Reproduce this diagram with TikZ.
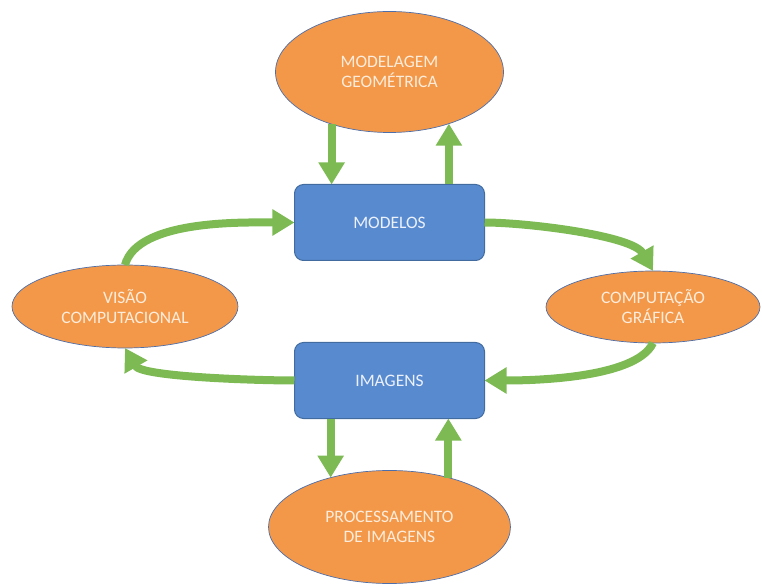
\documentclass[tikz,border=0pt]{standalone}
\usepackage{fontspec}
\setmainfont{Carlito}
\usepackage{tikz}
\usetikzlibrary{positioning,shapes.geometric,arrows.meta,calc}

\definecolor{ovalfill}{RGB}{243,152,72}
\definecolor{ovalline}{RGB}{78,110,170}
\definecolor{ovaltext}{RGB}{253,236,220}
\definecolor{boxfill}{RGB}{88,138,208}
\definecolor{boxline}{RGB}{66,108,160}
\definecolor{boxtext}{RGB}{236,241,250}
\definecolor{flowgreen}{RGB}{125,186,84}

\begin{document}
\begin{tikzpicture}[%
		flow/.style={%
			draw=flowgreen,
			line width=8pt,
			-{Triangle[width=25pt,length=22pt]}
		},
		box/.style={%
			rectangle,
			rounded corners=9pt,
			draw=boxline,
			line width=1pt,
			fill=boxfill,
			text=boxtext,
			minimum width=190pt,
			minimum height=76pt,
			outer sep=0pt,
			font=\fontsize{17.5}{20}\selectfont
		},
		oval/.style={%
			ellipse,
			draw=ovalline,
			line width=0.7pt,
			fill=ovalfill,
			text=ovaltext,
			inner sep=0pt,
			outer sep=0pt,
			align=center,
			font=\fontsize{17.5}{20}\selectfont
		}
		]
		\useasboundingbox (-389.5pt,-362.5pt) rectangle (372.5pt,222.5pt);
		
		\node[box] (modelos)                                           {MODELOS};
		\node[box] (imagens) [below=82pt of modelos]                   {IMAGENS};
		\coordinate (mid) at ($(modelos)!0.5!(imagens)$);
		\node[oval, minimum width=228pt, minimum height=121pt] (geo) [above=52pt of modelos]
			{MODELAGEM\\GEOMÉTRICA};
		\node[oval, minimum width=242pt, minimum height=113pt] (proc) [below=52pt of imagens]
			{PROCESSAMENTO\\DE IMAGENS};
		\node[oval, minimum width=226pt, minimum height=83pt] (visao) [left=151.5pt of mid, yshift=-5pt]
			{VISÃO\\COMPUTACIONAL};
		\node[oval, minimum width=214pt, minimum height=72pt] (comp) [right=156.5pt of mid, yshift=-5.5pt]
			{COMPUTAÇÃO\\GRÁFICA};
		
		\path (geo.-138) edge[flow]                                     (geo.-138 |- modelos.north)
		(modelos.north -| geo.-41) edge[flow]                           (geo.-41)
		(imagens.south -| proc.140) edge[flow]                          (proc.140)
		(proc.40) edge[flow]                                            (proc.40 |- imagens.south)
		(visao.north) edge[flow, out=75, in=180, looseness=0.7]         (modelos.west)
		(modelos.east) edge[flow, out=0, in=120, looseness=0.6]         (comp.north)
		(comp.south) edge[flow, out=-115, in=0, looseness=0.6]          (imagens.east)
		(imagens.west) edge[flow, out=180, in=-60, looseness=0.5]       (visao.south);
\end{tikzpicture}
\end{document}
